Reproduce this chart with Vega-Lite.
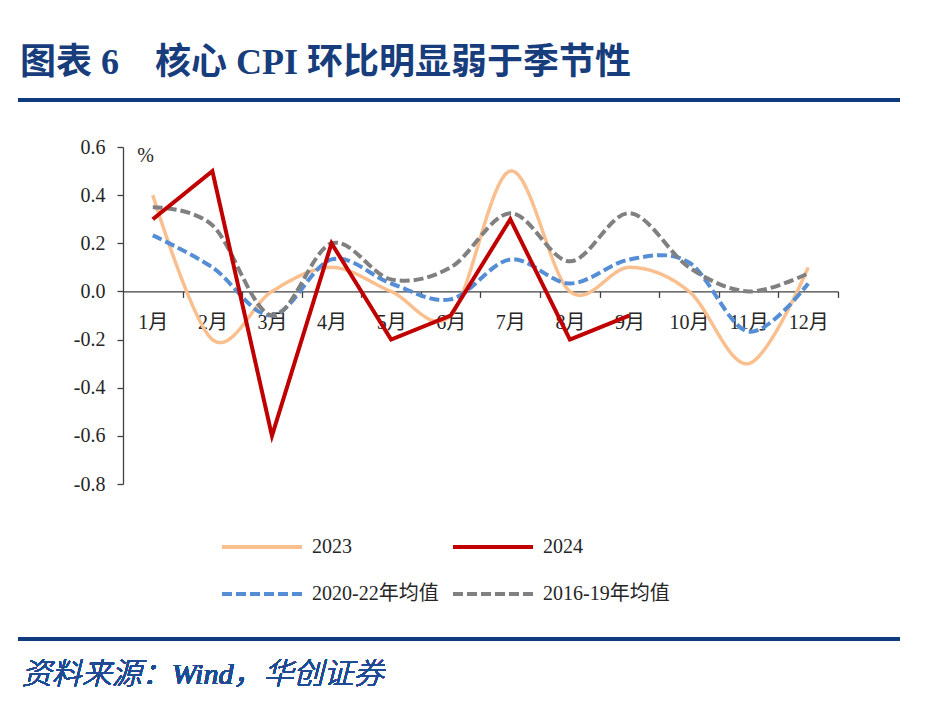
{
  "$schema": "https://vega.github.io/schema/vega-lite/v6.json",
  "width": 715,
  "height": 337,
  "autosize": {"type": "none"},
  "padding": {"left": 123, "top": 147, "right": 102, "bottom": 222},
  "background": "white",
  "config": {
    "view": {"stroke": null},
    "font": "'Liberation Serif', 'Noto Sans CJK SC'"
  },
  "title": {
    "text": "图表 6　核心 CPI 环比明显弱于季节性",
    "anchor": "start",
    "frame": "group",
    "dx": -103,
    "offset": 16,
    "fontSize": 36,
    "fontWeight": "bold",
    "font": "'Liberation Serif', 'Noto Sans CJK SC'",
    "color": "#183D7C"
  },
  "data": {
    "values": [
      {"m": 1, "s": "2023", "v": 0.4}, {"m": 2, "s": "2023", "v": -0.2}, {"m": 3, "s": "2023", "v": 0.0}, {"m": 4, "s": "2023", "v": 0.1},
      {"m": 5, "s": "2023", "v": 0.0}, {"m": 6, "s": "2023", "v": -0.1}, {"m": 7, "s": "2023", "v": 0.5}, {"m": 8, "s": "2023", "v": 0.0},
      {"m": 9, "s": "2023", "v": 0.1}, {"m": 10, "s": "2023", "v": 0.0}, {"m": 11, "s": "2023", "v": -0.3}, {"m": 12, "s": "2023", "v": 0.1},
      {"m": 1, "s": "2024", "v": 0.3}, {"m": 2, "s": "2024", "v": 0.5}, {"m": 3, "s": "2024", "v": -0.6}, {"m": 4, "s": "2024", "v": 0.2},
      {"m": 5, "s": "2024", "v": -0.2}, {"m": 6, "s": "2024", "v": -0.1}, {"m": 7, "s": "2024", "v": 0.3}, {"m": 8, "s": "2024", "v": -0.2},
      {"m": 9, "s": "2024", "v": -0.1},
      {"m": 1, "s": "2020-22年均值", "v": 0.233}, {"m": 2, "s": "2020-22年均值", "v": 0.1}, {"m": 3, "s": "2020-22年均值", "v": -0.1}, {"m": 4, "s": "2020-22年均值", "v": 0.133},
      {"m": 5, "s": "2020-22年均值", "v": 0.033}, {"m": 6, "s": "2020-22年均值", "v": -0.033}, {"m": 7, "s": "2020-22年均值", "v": 0.133}, {"m": 8, "s": "2020-22年均值", "v": 0.033},
      {"m": 9, "s": "2020-22年均值", "v": 0.133}, {"m": 10, "s": "2020-22年均值", "v": 0.12}, {"m": 11, "s": "2020-22年均值", "v": -0.167}, {"m": 12, "s": "2020-22年均值", "v": 0.033},
      {"m": 1, "s": "2016-19年均值", "v": 0.35}, {"m": 2, "s": "2016-19年均值", "v": 0.275}, {"m": 3, "s": "2016-19年均值", "v": -0.1}, {"m": 4, "s": "2016-19年均值", "v": 0.2},
      {"m": 5, "s": "2016-19年均值", "v": 0.05}, {"m": 6, "s": "2016-19年均值", "v": 0.1}, {"m": 7, "s": "2016-19年均值", "v": 0.325}, {"m": 8, "s": "2016-19年均值", "v": 0.125},
      {"m": 9, "s": "2016-19年均值", "v": 0.325}, {"m": 10, "s": "2016-19年均值", "v": 0.1}, {"m": 11, "s": "2016-19年均值", "v": 0.0}, {"m": 12, "s": "2016-19年均值", "v": 0.075}
    ]
  },
  "layer": [
    {
      "mark": {"type": "rule", "color": "#0F3C7E", "strokeWidth": 4},
      "encoding": {
        "x": {"datum": -1.262, "type": "quantitative"},
        "x2": {"datum": 13.54},
        "y": {"datum": 0.7953, "type": "quantitative"}
      }
    },
    {
      "mark": {"type": "rule", "color": "#0F3C7E", "strokeWidth": 4},
      "encoding": {
        "x": {"datum": -1.262, "type": "quantitative"},
        "x2": {"datum": 13.54},
        "y": {"datum": -1.444, "type": "quantitative"}
      }
    },
    {
      "mark": {"type": "text", "align": "left", "baseline": "middle", "fontSize": 30, "fontStyle": "italic", "fontWeight": 300, "color": "#1F4A94", "font": "'Liberation Serif', 'Noto Sans CJK SC'"},
      "encoding": {
        "x": {"datum": -1.2, "type": "quantitative"},
        "y": {"datum": -1.5935, "type": "quantitative"},
        "text": {"value": "资料来源：Wind，华创证券"}
      }
    },
    {
      "transform": [{"filter": "datum.s === '2023'"}],
      "mark": {"type": "line", "interpolate": "cardinal", "strokeWidth": 3.5},
      "encoding": {
        "x": {
          "field": "m", "type": "quantitative",
          "scale": {"domain": [0.5, 12.5], "nice": false, "zero": false},
          "axis": {
            "orient": "bottom", "offset": -192.6, "title": null,
            "values": [1, 2, 3, 4, 5, 6, 7, 8, 9, 10, 11, 12],
            "labelExpr": "datum.value + '月'",
            "tickOffset": 29.79, "labelOffset": -29.79, "tickSize": 6,
            "tickColor": "#404040", "domainColor": "#404040", "domainWidth": 1.3, "tickWidth": 1.3,
            "labelPadding": 15, "labelFontSize": 20, "labelColor": "#262626",
            "labelFont": "'Liberation Serif', 'Noto Sans CJK SC'", "grid": false
          }
        },
        "y": {
          "field": "v", "type": "quantitative",
          "scale": {"domain": [-0.8, 0.6], "nice": false, "zero": false},
          "axis": {
            "values": [-0.8, -0.6, -0.4, -0.2, 0, 0.2, 0.4, 0.6],
            "labelExpr": "replace(format(datum.value, '.1f'), '−', '-')",
            "grid": false,
            "tickSize": 6, "tickColor": "#404040", "domainColor": "#404040", "domainWidth": 1.3, "tickWidth": 1.3,
            "labelPadding": 12, "labelFontSize": 20, "labelColor": "#262626",
            "labelFont": "'Liberation Serif', 'Noto Sans CJK SC'",
            "title": "%", "titleAngle": 0, "titleX": 22, "titleY": 8,
            "titleAlign": "center", "titleBaseline": "middle",
            "titleFontSize": 20, "titleFontWeight": "normal", "titleColor": "#262626",
            "titleFont": "'Liberation Serif', 'Noto Sans CJK SC'"
          }
        },
        "color": {
          "field": "s", "type": "nominal",
          "scale": {
            "domain": ["2023", "2024", "2020-22年均值", "2016-19年均值"],
            "range": ["#FABF8F", "#C00000", "#558ED5", "#808080"]
          },
          "legend": {
            "title": null, "orient": "none", "legendX": 97, "legendY": 388, "direction": "horizontal",
            "columns": 2, "columnPadding": 6, "rowPadding": 25,
            "symbolType": "M-1,0H7", "symbolSize": 400, "symbolStrokeWidth": 4,
            "labelFontSize": 20, "labelColor": "#262626", "labelOffset": 68,
            "labelFont": "'Liberation Serif', 'Noto Sans CJK SC'", "labelLimit": 300
          }
        },
        "strokeDash": {
          "field": "s", "type": "nominal",
          "scale": {
            "domain": ["2023", "2024", "2020-22年均值", "2016-19年均值"],
            "range": [[1, 0], [1, 0], [10, 4], [10, 4]]
          },
          "legend": {
            "title": null, "orient": "none", "legendX": 97, "legendY": 388, "direction": "horizontal",
            "columns": 2, "columnPadding": 6, "rowPadding": 25,
            "symbolType": "M-1,0H7", "symbolSize": 400, "symbolStrokeWidth": 4,
            "labelFontSize": 20, "labelColor": "#262626", "labelOffset": 68,
            "labelFont": "'Liberation Serif', 'Noto Sans CJK SC'", "labelLimit": 300
          }
        }
      }
    },
    {
      "transform": [{"filter": "datum.s === '2020-22年均值'"}],
      "mark": {"type": "line", "interpolate": "cardinal", "strokeWidth": 4},
      "encoding": {
        "x": {"field": "m", "type": "quantitative"},
        "y": {"field": "v", "type": "quantitative"},
        "color": {"field": "s", "type": "nominal"},
        "strokeDash": {"field": "s", "type": "nominal"}
      }
    },
    {
      "transform": [{"filter": "datum.s === '2016-19年均值'"}],
      "mark": {"type": "line", "interpolate": "cardinal", "strokeWidth": 4},
      "encoding": {
        "x": {"field": "m", "type": "quantitative"},
        "y": {"field": "v", "type": "quantitative"},
        "color": {"field": "s", "type": "nominal"},
        "strokeDash": {"field": "s", "type": "nominal"}
      }
    },
    {
      "transform": [{"filter": "datum.s === '2024'"}],
      "mark": {"type": "line", "interpolate": "linear", "strokeWidth": 4},
      "encoding": {
        "x": {"field": "m", "type": "quantitative"},
        "y": {"field": "v", "type": "quantitative"},
        "color": {"field": "s", "type": "nominal"},
        "strokeDash": {"field": "s", "type": "nominal"}
      }
    }
  ]
}
